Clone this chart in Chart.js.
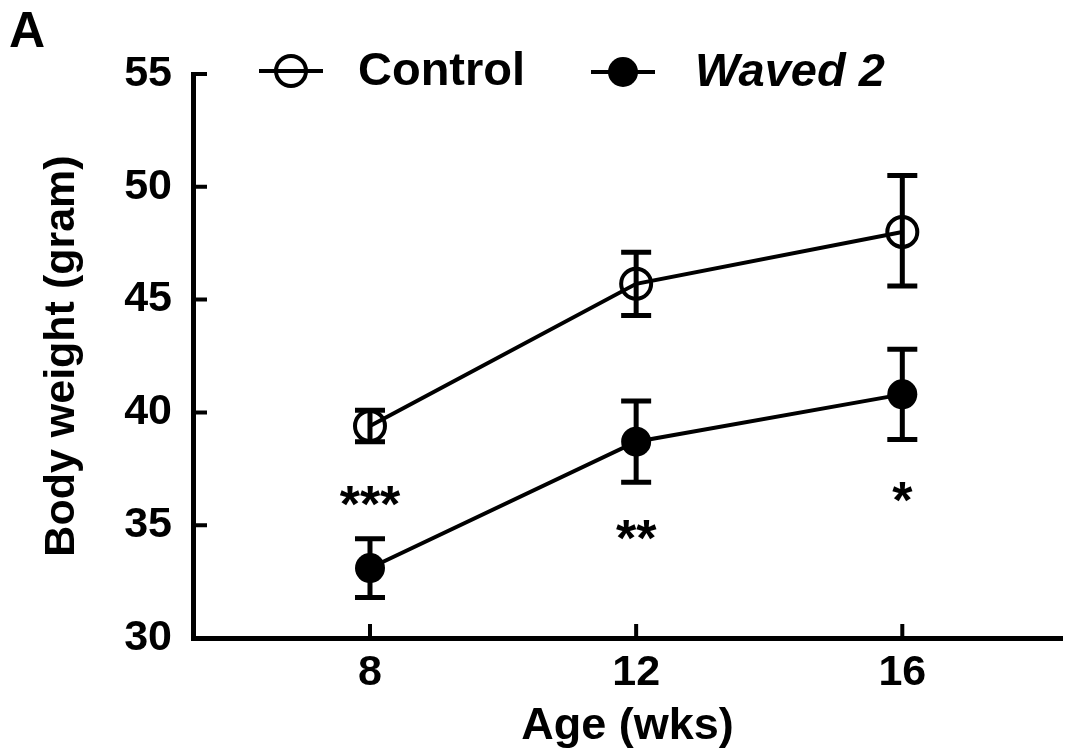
<!DOCTYPE html>
<html>
<head>
<meta charset="utf-8">
<script src="https://cdn.jsdelivr.net/npm/chart.js@4.4.0/dist/chart.umd.min.js"></script>
<style>
html,body{margin:0;padding:0;background:#fff;}
#wrap{position:relative;width:1068px;height:754px;}
</style>
</head>
<body>
<div id="wrap"><canvas id="c" width="1068" height="754"></canvas></div>
<script>
// ---- data ----
const ages = [8, 12, 16];
const controlMean = [39.4, 45.7, 48.0];
const controlLow  = [38.7, 44.3, 45.6];
const controlHigh = [40.1, 47.1, 50.5];
const wavedMean = [33.1, 38.7, 40.8];
const wavedLow  = [31.8, 36.9, 38.8];
const wavedHigh = [34.4, 40.5, 42.8];
const yTicks = [30, 35, 40, 45, 50, 55];
const xTicks = [8, 12, 16];
const sigLabels = ['***', '**', '*'];
const sigY = [36.2, 34.7, 36.4];

const FONT = '"Liberation Sans", Arial, sans-serif';

const errorBars = {
  id: 'errorBars',
  afterDatasetsDraw(chart) {
    const ctx = chart.ctx, xs = chart.scales.x, ys = chart.scales.y;
    const sets = [[controlLow, controlHigh], [wavedLow, wavedHigh]];
    ctx.save();
    ctx.strokeStyle = '#000';
    ctx.fillStyle = '#000';
    ctx.lineWidth = 5;
    sets.forEach(([lo, hi]) => {
      ages.forEach((a, i) => {
        const x = xs.getPixelForValue(a);
        const y1 = ys.getPixelForValue(lo[i]);
        const y2 = ys.getPixelForValue(hi[i]);
        ctx.beginPath();
        ctx.moveTo(x, y1); ctx.lineTo(x, y2);
        ctx.moveTo(x - 15, y1); ctx.lineTo(x + 15, y1);
        ctx.moveTo(x - 15, y2); ctx.lineTo(x + 15, y2);
        ctx.stroke();
      });
    });
    // significance
    ctx.font = 'bold 52px ' + FONT;
    ctx.textAlign = 'center';
    ctx.textBaseline = 'middle';
    ages.forEach((a, i) => {
      ctx.fillText(sigLabels[i], xs.getPixelForValue(a), ys.getPixelForValue(sigY[i]) + 10);
    });
    // inward ticks
    ctx.lineWidth = 4;
    ctx.beginPath();
    yTicks.forEach(v => {
      const y = ys.getPixelForValue(v);
      ctx.moveTo(xs.left, y); ctx.lineTo(xs.left + 14, y);
    });
    xTicks.forEach(v => {
      const x = xs.getPixelForValue(v);
      ctx.moveTo(x, ys.bottom); ctx.lineTo(x, ys.bottom - 14);
    });
    ctx.stroke();
    // legend
    const drawItem = (x0, y0, filled, label, italic, tx) => {
      ctx.lineWidth = 4;
      ctx.beginPath(); ctx.moveTo(x0 - 32, y0); ctx.lineTo(x0 + 32, y0); ctx.stroke();
      ctx.beginPath(); ctx.arc(x0, y0, 15, 0, Math.PI * 2);
      if (filled) { ctx.fill(); } else { ctx.stroke(); }
      ctx.font = (italic ? 'italic ' : '') + 'bold 47px ' + FONT;
      ctx.textAlign = 'left';
      ctx.textBaseline = 'middle';
      ctx.fillText(label, tx, y0 + 1);
    };
    drawItem(291, 71, false, 'Control', false, 358);
    drawItem(623, 72, true, 'Waved 2', true, 695);
    // panel letter
    ctx.font = 'bold 50px ' + FONT;
    ctx.textAlign = 'left';
    ctx.textBaseline = 'alphabetic';
    ctx.fillText('A', 9, 47);
    ctx.restore();
  }
};

new Chart(document.getElementById('c'), {
  type: 'line',
  data: {
    datasets: [
      {
        label: 'Control',
        data: ages.map((a, i) => ({x: a, y: controlMean[i]})),
        borderColor: '#000', borderWidth: 4,
        pointRadius: 15, pointBorderWidth: 4,
        pointBackgroundColor: 'rgba(0,0,0,0)', pointBorderColor: '#000',
        tension: 0, clip: false
      },
      {
        label: 'Waved 2',
        data: ages.map((a, i) => ({x: a, y: wavedMean[i]})),
        borderColor: '#000', borderWidth: 4,
        pointRadius: 15, pointBorderWidth: 0,
        pointBackgroundColor: '#000', pointBorderColor: '#000',
        tension: 0, clip: false
      }
    ]
  },
  options: {
    responsive: false,
    animation: false,
    events: [],
    layout: {autoPadding: false, padding: {left: 0, right: 6, top: 74, bottom: 0}},
    plugins: {legend: {display: false}, tooltip: {enabled: false}},
    scales: {
      x: {
        type: 'linear', min: 5.34, max: 18.4,
        afterBuildTicks(s) { s.ticks = xTicks.map(v => ({value: v})); },
        afterFit(s) { s.height = 116; s.paddingLeft = 0; s.paddingRight = 0; },
        grid: {display: true, drawOnChartArea: false, drawTicks: false},
        border: {display: true, color: '#000', width: 5},
        ticks: {color: '#000', font: {family: FONT, size: 43, weight: 'bold'}, padding: 9},
        title: {display: true, text: 'Age (wks)', color: '#000',
          font: {family: FONT, size: 45, weight: 'bold'}, padding: {top: 0, bottom: 0}}
      },
      y: {
        type: 'linear', min: 30, max: 55,
        afterBuildTicks(s) { s.ticks = yTicks.map(v => ({value: v})); },
        afterFit(s) { s.width = 193; },
        grid: {display: true, drawOnChartArea: false, drawTicks: false},
        border: {display: true, color: '#000', width: 5},
        ticks: {color: '#000', font: {family: FONT, size: 43, weight: 'bold'}, padding: 21},
        title: {display: true, text: 'Body weight (gram)', color: '#000',
          font: {family: FONT, size: 43, weight: 'bold'}, padding: {top: 36, bottom: 0}}
      }
    }
  },
  plugins: [errorBars]
});
</script>
</body>
</html>
